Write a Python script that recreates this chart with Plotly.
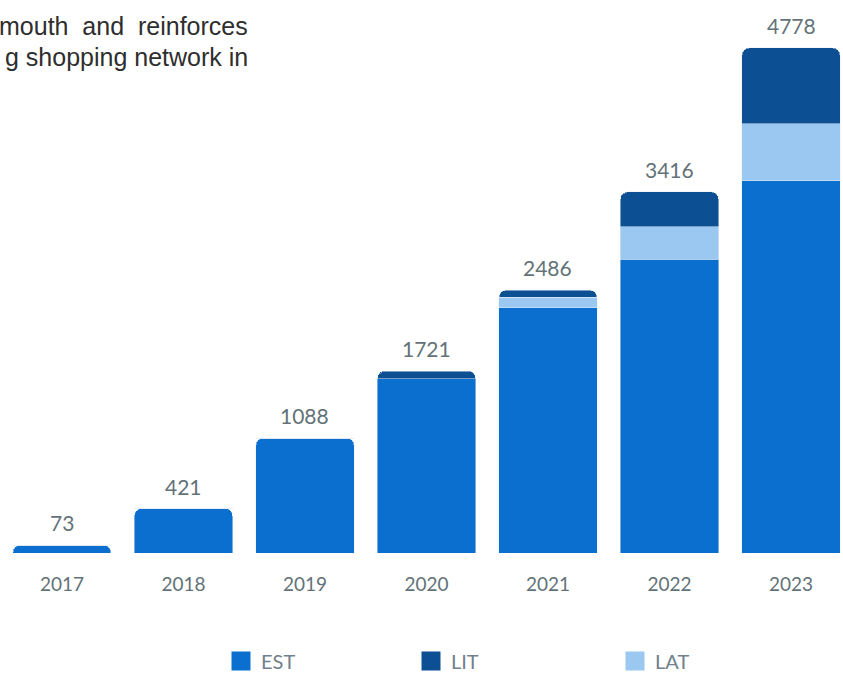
import plotly.graph_objects as go

years = ["2017", "2018", "2019", "2020", "2021", "2022", "2023"]
est = [73, 421, 1088, 1647, 2322, 2780, 3520]
lat = [0, 0, 0, 0, 100, 309, 539]
lit = [0, 0, 0, 74, 64, 327, 719]
totals = [73, 421, 1088, 1721, 2486, 3416, 4778]

C_EST = "#0b6fcf"
C_LAT = "#9ac8f0"
C_LIT = "#0c4f93"
LABEL = "#627278"
FONT = "Lato"

fig = go.Figure()
fig.add_trace(go.Bar(x=years, y=est, name="EST", marker_color=C_EST, width=0.807, showlegend=False))
fig.add_trace(go.Bar(x=years, y=lat, name="LAT", marker_color=C_LAT, width=0.807, showlegend=False))
fig.add_trace(go.Bar(x=years, y=lit, name="LIT", marker_color=C_LIT, width=0.807, showlegend=False))

# legend entries (one legend each so they can be positioned like the original)
for name, col, lg in [("EST", C_EST, "legend"), ("LIT", C_LIT, "legend2"), ("LAT", C_LAT, "legend3")]:
    fig.add_trace(go.Scatter(x=[None], y=[None], mode="markers", name=name, legend=lg,
                             marker=dict(symbol="square", size=16, color=col,
                                         line=dict(color=col, width=3))))

for i, t in enumerate(totals):
    fig.add_annotation(x=i, y=t, text=str(t), showarrow=False, yanchor="bottom",
                       yshift=8, font=dict(family=FONT, size=21, color=LABEL))

fig.add_annotation(xref="paper", yref="paper", x=250 / 843, y=1 - 26 / 553,
                   text="mouth&nbsp; and&nbsp; reinforces",
                   showarrow=False, xanchor="right", yanchor="middle",
                   font=dict(family="Liberation Sans", size=25, color="#2e2e2e"))
fig.add_annotation(xref="paper", yref="paper", x=250 / 843, y=1 - 57 / 553, text="g shopping network in",
                   showarrow=False, xanchor="right", yanchor="middle",
                   font=dict(family="Liberation Sans", size=25, color="#2e2e2e"))

leg_common = dict(orientation="h", y=-108 / 553, yanchor="middle", xanchor="left",
                  font=dict(family=FONT, size=20, color="#71808a"), itemsizing="trace",
                  bgcolor="rgba(0,0,0,0)")

fig.update_layout(
    width=843, height=673,
    margin=dict(l=0, r=0, t=0, b=120, autoexpand=False),
    barmode="stack",
    barcornerradius=7,
    plot_bgcolor="white", paper_bgcolor="white",
    xaxis=dict(type="category", range=[-0.51, 6.428], showgrid=False, zeroline=False, showline=False,
               ticks="", ticklabelstandoff=18,
               tickfont=dict(family=FONT, size=19, color=LABEL)),
    yaxis=dict(range=[0, 5232], visible=False),
    legend=dict(x=221 / 843, **leg_common),
    legend2=dict(x=411 / 843, **leg_common),
    legend3=dict(x=615 / 843, **leg_common),
)

fig.write_html("out.html")
